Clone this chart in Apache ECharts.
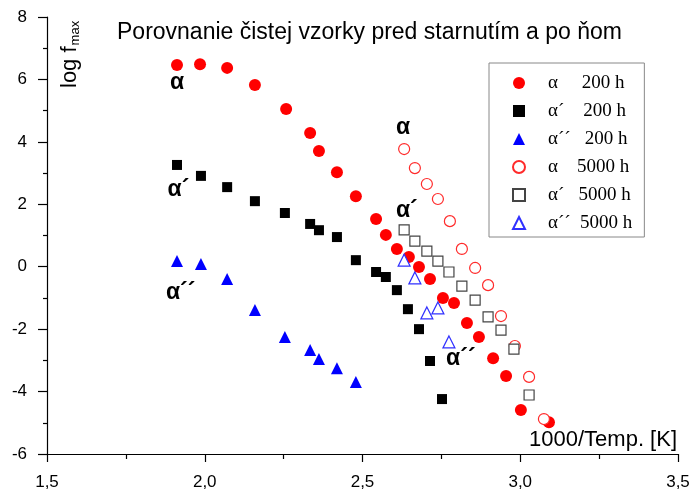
<!DOCTYPE html>
<html><head><meta charset="utf-8">
<script src="https://cdn.jsdelivr.net/npm/echarts@6/dist/echarts.min.js"></script>
<style>html,body{margin:0;padding:0;background:#fff}#c{width:697px;height:495px}</style>
</head><body><div id="c"></div>
<script>
// α 200 h (filled red circles)
const xA200 = [1.912,1.985,2.071,2.159,2.258,2.334,2.362,2.419,2.479,2.543,2.574,2.609,2.647,2.679,2.714,2.755,2.790,2.831,2.869,2.914,2.955,3.002,3.091];
const yA200 = [6.46,6.49,6.37,5.82,5.05,4.28,3.71,3.03,2.26,1.53,1.02,0.57,0.31,-0.01,-0.39,-1.00,-1.16,-1.80,-2.25,-2.93,-3.50,-4.59,-4.98];
// α´ 200 h (filled black squares)
const xB200 = [1.912,1.988,2.071,2.159,2.254,2.334,2.362,2.419,2.479,2.543,2.574,2.609,2.644,2.679,2.714,2.752];
const yB200 = [3.26,2.91,2.55,2.10,1.72,1.37,1.17,0.95,0.21,-0.17,-0.33,-0.75,-1.36,-2.00,-3.02,-4.24];
// α´´ 200 h (filled blue triangles)
const xC200 = [1.912,1.988,2.071,2.159,2.254,2.334,2.362,2.419,2.479];
const yC200 = [0.18,0.09,-0.39,-1.39,-2.25,-2.67,-2.96,-3.25,-3.69];
// α 5000 h (open red circles)
const xA5000 = [2.632,2.666,2.704,2.739,2.777,2.815,2.857,2.898,2.939,2.983,3.028,3.075];
const yA5000 = [3.77,3.16,2.65,2.17,1.46,0.57,-0.04,-0.59,-1.58,-2.54,-3.53,-4.88];
// α´ 5000 h (open black squares)
const xB5000 = [2.632,2.666,2.704,2.739,2.774,2.815,2.857,2.898,2.939,2.980,3.028];
const yB5000 = [1.18,0.82,0.50,0.18,-0.17,-0.62,-1.07,-1.61,-2.03,-2.64,-4.11];
// α´´ 5000 h (open blue triangles)
const xC5000 = [2.632,2.666,2.704,2.739,2.774];
const yC5000 = [0.21,-0.36,-1.48,-1.32,-2.41];

const seriesNames = ['α     200 h','α´    200 h','α´´   200 h','α    5000 h','α´   5000 h','α´´  5000 h'];
const annotText = ['α','α´','α´´','α','α´','α´´'];
const annotX = [1.890,1.882,1.877,2.606,2.606,2.765];
const annotY = [5.89,2.46,-0.84,4.44,1.78,-2.96];
const xTicks = {min:1.5, max:3.5, interval:0.5};
const yTicks = {min:-6, max:8, interval:2};
const titleText = 'Porovnanie čistej vzorky pred starnutím a po ňom';
const xName = '1000/Temp. [K]';

const zip = (xs, ys) => xs.map((x, i) => [x, ys[i]]);

const chart = echarts.init(document.getElementById('c'), null, {renderer:'canvas'});
const sans = 'Liberation Sans, Arial, sans-serif';
const serif = 'Liberation Serif, Times New Roman, serif';

const defs = [
  {x:xA200, y:yA200, symbol:'circle', size:12, style:{color:'#ff0000', opacity:1}},
  {x:xB200, y:yB200, symbol:'rect', size:10, style:{color:'#000000', opacity:1}},
  {x:xC200, y:yC200, symbol:'triangle', size:12, style:{color:'#0000ff', opacity:1}},
  {x:xA5000, y:yA5000, symbol:'circle', size:11, style:{color:'#ffffff', borderColor:'#ff2a2a', borderWidth:1.2, opacity:1}},
  {x:xB5000, y:yB5000, symbol:'rect', size:10, style:{color:'#ffffff', borderColor:'#444444', borderWidth:1.2, opacity:1}},
  {x:xC5000, y:yC5000, symbol:'triangle', size:12, style:{color:'#ffffff', borderColor:'#3030ff', borderWidth:1.2, opacity:1}}
];

const series = defs.map((d, i) => ({
  name: seriesNames[i], type:'scatter', symbol:d.symbol, symbolSize:d.size,
  itemStyle:d.style, data: zip(d.x, d.y), silent:true, z: 3
}));
series.push({
  name:'labels', type:'scatter', symbolSize:0, silent:true, z:4,
  itemStyle:{opacity:1, color:'#000'},
  data: annotX.map((x, i) => ({value:[x, annotY[i]], name:annotText[i]})),
  label:{show:true, position:'right', distance:0, formatter:p => p.name, opacity:1,
    fontFamily:sans, fontWeight:'bold', fontSize:23, color:'#000'}
});

chart.setOption({
  animation:false,
  backgroundColor:'#fff',
  title:{text:titleText, left:112, top:16, textStyle:{fontFamily:sans, fontSize:23, fontWeight:'normal', color:'#000'}},
  grid:{left:47, right:19, top:17, bottom:41},
  legend:{data:seriesNames, orient:'vertical', left:489, top:63,
    itemWidth:12, itemHeight:12, itemGap:8,
    padding:[10,12,4,23], borderColor:'#888', borderWidth:1,
    textStyle:{fontFamily:serif, fontSize:19, lineHeight:20, color:'#000', padding:[0,0,0,18]},
    selectedMode:false},
  xAxis:{type:'value', min:xTicks.min, max:xTicks.max, interval:xTicks.interval,
    axisLine:{show:true, onZero:false, lineStyle:{color:'#000', width:1.2}},
    axisTick:{show:true, length:8, lineStyle:{color:'#000', width:1.2}},
    minorTick:{show:true, splitNumber:2, length:5, lineStyle:{color:'#000', width:1.2}},
    splitLine:{show:false},
    axisLabel:{fontFamily:sans, fontSize:17, color:'#000', margin:20, formatter:v => v.toFixed(1).replace('.', ',')},
    name:xName, nameLocation:'end', nameGap:-1,
    nameTextStyle:{fontFamily:sans, fontSize:22, color:'#000', align:'right', verticalAlign:'bottom', padding:[0,0,3,0]}
  },
  yAxis:{type:'value', min:yTicks.min, max:yTicks.max, interval:yTicks.interval,
    axisLine:{show:true, onZero:false, lineStyle:{color:'#000', width:1.2}},
    axisTick:{show:true, length:9, lineStyle:{color:'#000', width:1.2}},
    minorTick:{show:true, splitNumber:2, length:4, lineStyle:{color:'#000', width:1.2}},
    splitLine:{show:false},
    axisLabel:{fontFamily:sans, fontSize:17, color:'#000', margin:20}
  },
  graphic:[{type:'text', x:70, y:88, rotation:Math.PI/2, silent:true,
    style:{text:'{a|log f}{b|max}', verticalAlign:'middle', align:'left',
      rich:{a:{fontFamily:sans, fontSize:22, color:'#000'},
            b:{fontFamily:sans, fontSize:13, color:'#000', padding:[10,0,0,1]}}}}],
  series:series
});
</script></body></html>
